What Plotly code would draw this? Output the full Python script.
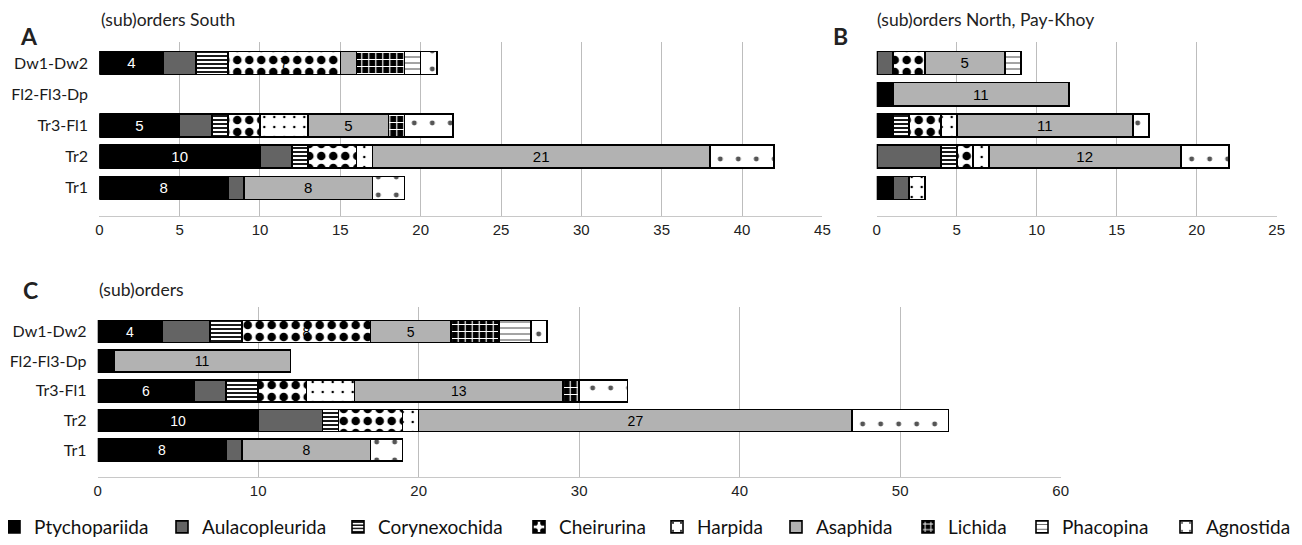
import plotly.graph_objects as go

categories = ["Tr1", "Tr2", "Tr3-Fl1", "Fl2-Fl3-Dp", "Dw1-Dw2"]
series = ["Ptychopariida", "Aulacopleurida", "Corynexochida", "Cheirurina", "Harpida",
          "Asaphida", "Lichida", "Phacopina", "Agnostida"]

# values per series, in category order: Tr1, Tr2, Tr3-Fl1, Fl2-Fl3-Dp, Dw1-Dw2
south = {
    "Ptychopariida":  [8, 10, 5, 0, 4],
    "Aulacopleurida": [1, 2, 2, 0, 2],
    "Corynexochida":  [0, 1, 1, 0, 2],
    "Cheirurina":     [0, 3, 2, 0, 7],
    "Harpida":        [0, 1, 3, 0, 0],
    "Asaphida":       [8, 21, 5, 0, 1],
    "Lichida":        [0, 0, 1, 0, 3],
    "Phacopina":      [0, 0, 0, 0, 1],
    "Agnostida":      [2, 4, 3, 0, 1],
}
north = {
    "Ptychopariida":  [1, 0, 1, 1, 0],
    "Aulacopleurida": [1, 4, 0, 0, 1],
    "Corynexochida":  [0, 1, 1, 0, 0],
    "Cheirurina":     [0, 1, 2, 0, 2],
    "Harpida":        [1, 1, 1, 0, 0],
    "Asaphida":       [0, 12, 11, 11, 5],
    "Lichida":        [0, 0, 0, 0, 0],
    "Phacopina":      [0, 0, 0, 0, 1],
    "Agnostida":      [0, 3, 1, 0, 0],
}
total = {
    "Ptychopariida":  [8, 10, 6, 1, 4],
    "Aulacopleurida": [1, 4, 2, 0, 3],
    "Corynexochida":  [0, 1, 2, 0, 2],
    "Cheirurina":     [0, 4, 3, 0, 8],
    "Harpida":        [0, 1, 3, 0, 0],
    "Asaphida":       [8, 27, 13, 11, 5],
    "Lichida":        [0, 0, 1, 0, 3],
    "Phacopina":      [0, 0, 0, 0, 2],
    "Agnostida":      [2, 6, 3, 0, 1],
}
label_threshold = {"Ptychopariida": 4, "Cheirurina": 7, "Asaphida": 4}

panel_titles = ["(sub)orders South", "(sub)orders North, Pay-Khoy", "(sub)orders"]
panel_letters = ["A", "B", "C"]

styles = {
    "Ptychopariida":  dict(color="#000000"),
    "Aulacopleurida": dict(color="#646464"),
    "Corynexochida":  dict(color="white", pattern=dict(shape="-", fgcolor="black", bgcolor="white", size=4, solidity=0.45, fillmode="replace")),
    "Cheirurina":     dict(color="white", pattern=dict(shape=".", fgcolor="black", bgcolor="white", size=12, solidity=0.4, fillmode="replace")),
    "Harpida":        dict(color="white", pattern=dict(shape=".", fgcolor="black", bgcolor="white", size=10, solidity=0.05, fillmode="replace")),
    "Asaphida":       dict(color="#b2b2b2"),
    "Lichida":        dict(color="black", pattern=dict(shape="+", fgcolor="white", bgcolor="black", size=7, solidity=0.3, fillmode="replace")),
    "Phacopina":      dict(color="white", pattern=dict(shape="-", fgcolor="black", bgcolor="white", size=6, solidity=0.12, fillmode="replace")),
    "Agnostida":      dict(color="white", pattern=dict(shape=".", fgcolor="#555", bgcolor="white", size=18, solidity=0.06, fillmode="replace")),
}

NUM_FONT = "Liberation Sans, Arial, sans-serif"
TXT_FONT = "Lato, Noto Sans, sans-serif"

# the page body adds an 8px margin; coordinates below are page pixels
OFF = 8
W, H = 1302 - OFF, 545 - OFF
def fx(px): return (px - OFF) / W
def fy(py): return 1 - (py - OFF) / H

# page x where each legend label text begins
legend_text_x = [34, 202, 378, 559, 697, 816, 948, 1062, 1206]
legend_names = ["legend"] + ["legend%d" % (i + 1) for i in range(1, len(series))]

fig = go.Figure()
datasets = [south, north, total]
axes = [("x", "y"), ("x2", "y2"), ("x3", "y3")]
for p, (data, (xa, ya)) in enumerate(zip(datasets, axes)):
    for k, s in enumerate(series):
        vals = [v if v else None for v in data[s]]
        thr = label_threshold.get(s)
        texts = [str(v) if (thr is not None and v and v >= thr) else "" for v in data[s]]
        st = styles[s]
        marker = dict(color=st["color"], line=dict(color="black", width=1.6))
        if "pattern" in st:
            marker["pattern"] = st["pattern"]
        fig.add_trace(go.Bar(
            x=vals, y=categories, orientation="h", name=s,
            xaxis=xa, yaxis=ya, marker=marker,
            text=texts, textposition="inside", insidetextanchor="middle",
            textangle=0,
            textfont=dict(family=NUM_FONT, size=15,
                          color="white" if s == "Ptychopariida" else "black"),
            legendgroup=s, showlegend=(p == 0), legend=legend_names[k],
            hoverinfo="x+name",
        ))

xcommon = dict(showgrid=True, gridcolor="#bdbdbd", gridwidth=1, zeroline=False,
               showline=True, linecolor="#c8c8c8", linewidth=1,
               tickfont=dict(family=NUM_FONT, size=15, color="#222"),
               ticks="", automargin=False, fixedrange=True)
ycommon = dict(type="category", categoryorder="array", categoryarray=categories,
               showgrid=False, zeroline=False, showline=False,
               tickfont=dict(family=TXT_FONT, size=16, color="#1a1a1a"),
               ticks="outside", ticklen=7, tickcolor="rgba(0,0,0,0)",
               automargin=False, fixedrange=True)

layout = dict(
    width=W, height=H, margin=dict(l=0, r=0, t=0, b=0, pad=0, autoexpand=False),
    paper_bgcolor="white", plot_bgcolor="white",
    barmode="stack", bargap=0.26,
    xaxis=dict(xcommon, domain=[fx(99.3), fx(822.4)], range=[0, 45], dtick=5, anchor="y"),
    yaxis=dict(ycommon, domain=[fy(216), fy(42)], range=[-0.9, 4.67], anchor="x"),
    xaxis2=dict(xcommon, domain=[fx(876.7), fx(1276.7)], range=[0, 25], dtick=5, anchor="y2"),
    yaxis2=dict(ycommon, domain=[fy(216), fy(42)], range=[-0.9, 4.67], anchor="x2", showticklabels=False),
    xaxis3=dict(xcommon, domain=[fx(97.7), fx(1060.7)], range=[0, 60], dtick=10, anchor="y3"),
    yaxis3=dict(ycommon, domain=[fy(476.7), fy(307)], range=[-0.9, 4.83], anchor="x3"),
    showlegend=True,
)
for k, ln in enumerate(legend_names):
    layout[ln] = dict(orientation="h", x=fx(legend_text_x[k] - 40), xanchor="left",
                      y=fy(527), yanchor="middle",
                      font=dict(family=TXT_FONT, size=19, color="#111"),
                      itemwidth=30, bgcolor="rgba(0,0,0,0)")
fig.update_layout(**layout)

annots = []
letter_pos = [(29, 36), (840, 36), (30, 290)]
title_pos = [(99, 19), (875, 19), (97, 289)]
for i in range(3):
    lx, ly = letter_pos[i]
    annots.append(dict(text="<b>%s</b>" % panel_letters[i], xref="paper", yref="paper",
                       x=fx(lx), y=fy(ly), xanchor="center", yanchor="middle", showarrow=False,
                       font=dict(family=TXT_FONT, size=23, color="#222")))
    tx, ty = title_pos[i]
    annots.append(dict(text=panel_titles[i], xref="paper", yref="paper",
                       x=fx(tx), y=fy(ty), xanchor="left", yanchor="middle", showarrow=False,
                       font=dict(family=TXT_FONT, size=17.5, color="#222")))
fig.update_layout(annotations=annots)

fig.write_html("out.html")
